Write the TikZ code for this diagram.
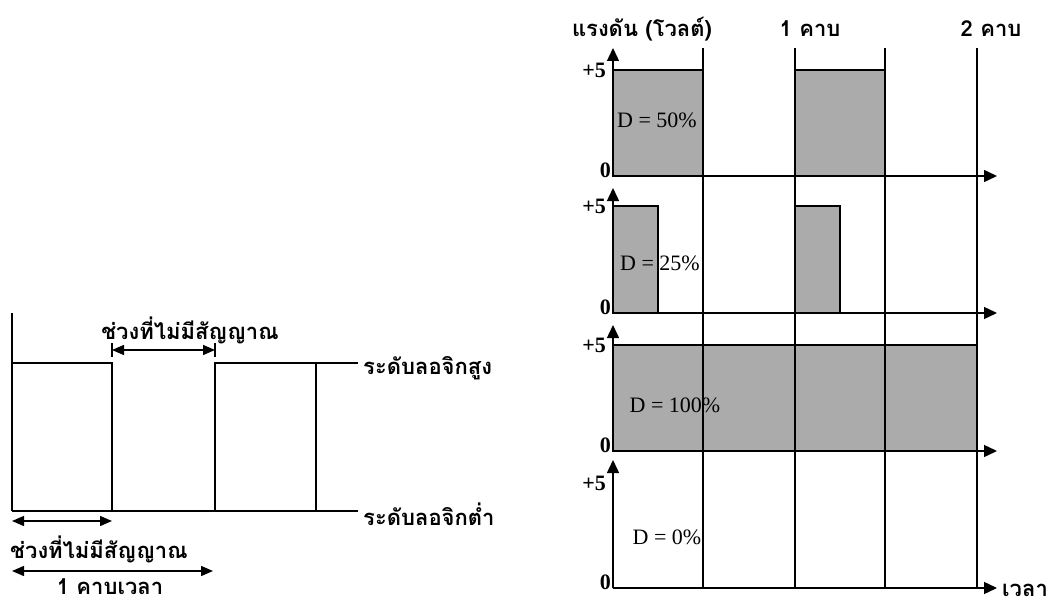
\documentclass[tikz,border=0pt]{standalone}
\usepackage{fontspec}
\setmainfont{Liberation Serif}
\newfontfamily\thaifont[Script=Thai]{Loma}
\usetikzlibrary{arrows.meta}
\tikzset{
  wave/.style={line width=1.4pt},
  axis/.style={line width=1.4pt,-{Triangle[length=13pt,width=12pt]}},
  dim/.style={line width=1.4pt,{Triangle[length=12pt,width=10pt]}-{Triangle[length=12pt,width=10pt]}},
  grid/.style={line width=1.4pt},
  pulse/.style={draw,line width=1.4pt,fill=black!33},
  th/.style={font=\thaifont\bfseries\fontsize{22}{25}\selectfont,inner sep=0pt},
  lat/.style={font=\fontsize{22}{24}\selectfont,inner sep=0pt},
  tick/.style={font=\bfseries\fontsize{22}{24}\selectfont,inner sep=0pt},
}
\begin{document}
\begin{tikzpicture}[x=1pt,y=-1pt]
\useasboundingbox (0,0) rectangle (1054,604);
% ---------- left diagram ----------
\coordinate (LT) at (12,313);
\coordinate (LB) at (12,511);
\coordinate (H0) at (12,363);
\coordinate (H1) at (112,363);
\coordinate (B1) at (112,511);
\coordinate (B2) at (215,511);
\coordinate (H2) at (215,363);
\coordinate (H3) at (316,363);
\coordinate (B3) at (316,511);
\coordinate (HE) at (358,363);
\coordinate (BE) at (358,511);
\draw[wave] (LT) -- (LB);
\draw[wave] (H0) -- (H1) -- (B1);
\draw[wave] (B2) -- (H2) -- (HE);
\draw[wave] (H3) -- (B3);
\draw[wave] (LB) -- (BE);
\node[th,anchor=west] (hi) at (363,368) {ระดับลอจิกสูง};
\node[th,anchor=west] (lo) at (363,514) {ระดับลอจิกต่ำ};
% top dimension
\coordinate (d1a) at (112,350);
\coordinate (d1b) at (215,350);
\draw[dim] (d1a) -- (d1b);
\draw[line width=1.4pt] (d1a) ++(0,-7) -- ++(0,14);
\draw[line width=1.4pt] (d1b) ++(0,-7) -- ++(0,14);
\node[th] (gap1) at (190,330) {ช่วงที่ไม่มีสัญญาณ};
% bottom dimensions
\coordinate (d2a) at (12,521);
\coordinate (d2b) at (112,521);
\draw[dim] (d2a) -- (d2b);
\node[th,anchor=west] (gap2) at (10,549) {ช่วงที่ไม่มีสัญญาณ};
\coordinate (d3a) at (12,571);
\coordinate (d3b) at (213,571);
\draw[dim] (d3a) -- (d3b);
\node[th,anchor=base] (per) at (110,594) {1 คาบเวลา};
% ---------- right diagram ----------
% pulses
\draw[pulse] (613,70) rectangle (703,176);
\draw[pulse] (795,70) rectangle (885,176);
\draw[pulse] (613,206) rectangle (658,313);
\draw[pulse] (795,206) rectangle (840,313);
\draw[pulse] (613,345) rectangle (977,451);
% vertical period lines
\foreach \x/\n in {703/v1,795/v2,885/v3,977/v4}{
  \coordinate (\n t) at (\x,48);
  \coordinate (\n b) at (\x,588);
  \draw[grid] (\n t) -- (\n b);
}
% axes
\foreach \r/\yb/\yt/\yf in {1/176/48/70, 2/313/188/206, 3/451/325/345, 4/588/460/483}{
  \coordinate (o\r) at (613,\yb);
  \coordinate (y\r) at (613,\yt);
  \coordinate (x\r) at (997,\yb);
  \draw[axis] (o\r) -- (y\r);
  \draw[axis] (o\r) -- (x\r);
  \node[tick,anchor=east] (p\r) at (606,\yf) {+5};
  \node[tick,anchor=east] (z\r) at (611,\yb-6) {0};
}
\node[lat] (d50) at (657,120) {D = 50\%};
\node[lat] (d25) at (660,263) {D = 25\%};
\node[lat] (d100) at (675,405) {D = 100\%};
\node[lat] (d0) at (667,537) {D = 0\%};
\node[th] (vt) at (642,29) {แรงดัน (โวลต์)};
\node[th] (k1) at (810,29) {1 คาบ};
\node[th] (k2) at (991,29) {2 คาบ};
\node[th,anchor=west] (tm) at (1002,590) {เวลา};
\end{tikzpicture}
\end{document}
